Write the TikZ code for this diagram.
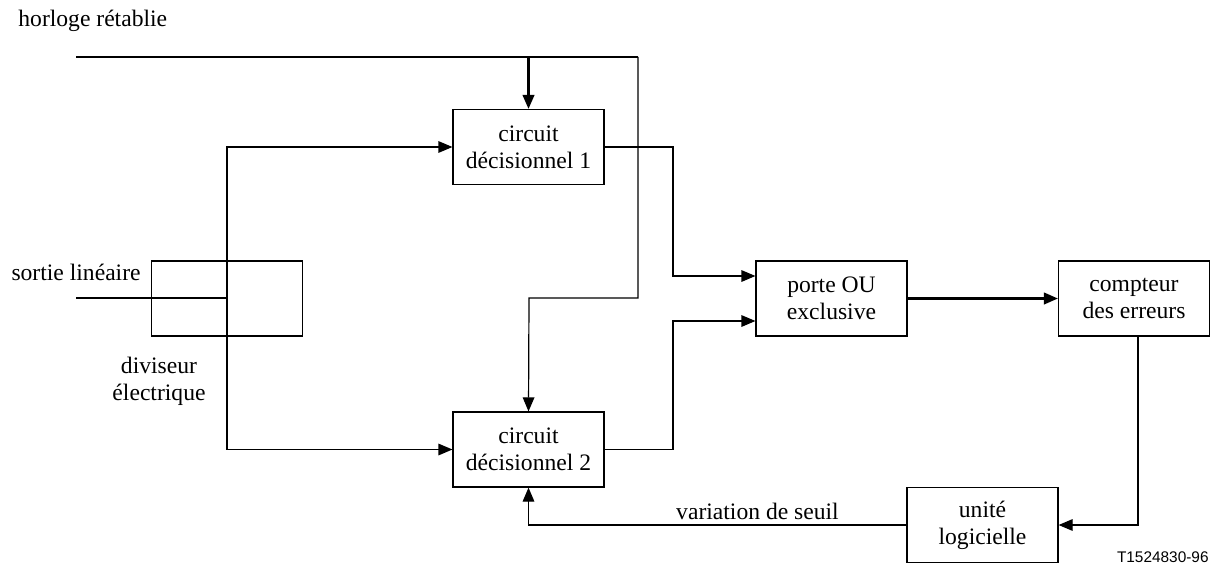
\documentclass[tikz,border=0pt]{standalone}
\usepackage{fontspec}
\setmainfont{Liberation Serif}
\newfontfamily\labsans{Liberation Sans}
\usetikzlibrary{arrows.meta}
\begin{document}
\begin{tikzpicture}[x=0.5pt,y=-0.5pt,
  every node/.style={font=\fontsize{11.8}{13.5}\selectfont},
  blk/.style={draw,line width=0.6pt,minimum width=75.5pt,minimum height=37.5pt,inner sep=0pt,align=center},
  wire/.style={line width=0.6pt},
  heavy/.style={line width=1.1pt},
  arr/.style={-{Triangle[length=7pt,width=5.8pt]}},
  lbl/.style={inner sep=0pt}]
\useasboundingbox (0,0) rectangle (1214,567);
% blocks
\node[blk] (d1) at (528.5,147) {circuit\\décisionnel 1};
\node[blk] (d2) at (528.5,449.5) {circuit\\décisionnel 2};
\node[blk] (xor) at (831.5,298.5) {porte OU\\exclusive};
\node[blk] (cnt) at (1134,298.5) {compteur\\des erreurs};
\node[blk] (ul) at (982.5,525) {unité\\logicielle};
\node[blk] (div) at (227,298.5) {};
% labels
\node[lbl,anchor=west] (lh) at (18,21) {horloge rétablie};
\node[lbl,anchor=east] (ls) at (141,272) {sortie linéaire};
\node[lbl,align=center] (ld) at (159,381) {diviseur\\électrique};
\node[lbl] (lv) at (757.5,511) {variation de seuil};
\node[lbl,anchor=east,font=\labsans\fontsize{7.7}{9}\selectfont] (lt) at (1209,557) {T1524830-96};
% coordinates
\coordinate (cs) at (76,57);
\coordinate (cr) at (638,57);
\coordinate (cm) at (638,298);
\coordinate (cj) at (529,298);
\coordinate (si) at (76,298);
\coordinate (sj) at (227,298);
% clock
\draw[wire,line width=0.8pt] (cs) -- (cr);
\draw[heavy,arr] (d1.north |- cs) -- (d1.north);
\draw[wire,arr] (cr) -- (cm) -- (cj) -- (d2.north);
% splitter
\draw[heavy] (si) -- (sj);
\draw[wire,arr] (sj) |- (d1.west);
\draw[wire,arr] (sj) |- (d2.west);
% decision outputs
\draw[wire,arr] (d1.east) -- (673,147) |- (xor.west |- 0,276);
\draw[wire,arr] (d2.east) -- (673,449.5) |- (xor.west |- 0,321);
% xor to counter
\draw[heavy,arr] (xor.east) -- (cnt.west);
% counter to logic unit
\draw[wire,arr] (cnt.south -| 1138,0) |- (ul.east);
% feedback
\draw[wire,arr] (ul.west) -| (d2.south);
\end{tikzpicture}
\end{document}
